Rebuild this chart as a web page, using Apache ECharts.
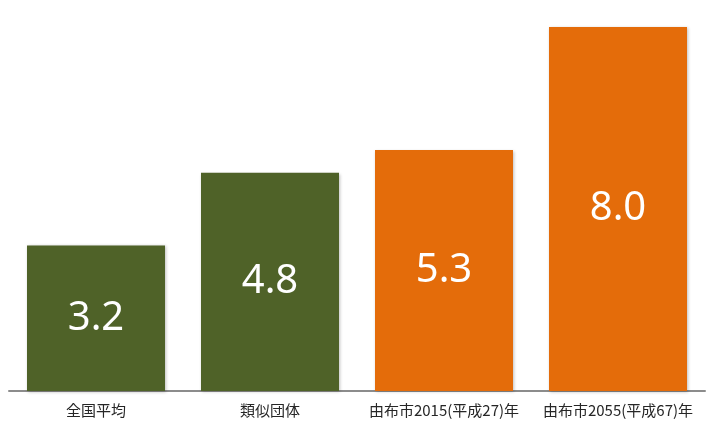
<!DOCTYPE html>
<html>
<head>
<meta charset="utf-8">
<style>
  html, body { margin: 0; padding: 0; background: #ffffff; }
  #chart { width: 708px; height: 422px; }
</style>
<script src="https://cdn.jsdelivr.net/npm/echarts@6/dist/echarts.min.js"></script>
</head>
<body>
<div id="chart"></div>
<script>
// Categories and their values
const categories = ['全国平均', '類似団体', '由布市2015(平成27)年', '由布市2055(平成67)年'];
const values = [3.2, 4.8, 5.3, 8.0];
const barColors = ['#4f6228', '#4f6228', '#e46c0a', '#e46c0a'];

const chart = echarts.init(document.getElementById('chart'), null, { renderer: 'canvas' });

chart.setOption({
  animation: false,
  backgroundColor: '#ffffff',
  grid: { left: 9, right: 3, top: 18, bottom: 31, containLabel: false },
  xAxis: {
    type: 'category',
    data: categories,
    axisLine: { show: true, lineStyle: { color: '#8c8c8c', width: 2 } },
    axisTick: { show: false },
    axisLabel: {
      interval: 0,
      hideOverlap: false,
      color: '#262626',
      fontSize: 15,
      margin: 12,
      fontFamily: '"Noto Sans CJK JP", "Noto Sans", sans-serif'
    }
  },
  yAxis: {
    type: 'value',
    min: 0,
    max: 8.2,
    show: false,
    splitLine: { show: false }
  },
  series: [{
    type: 'bar',
    barWidth: 138,
    data: values.map((v, i) => ({
      value: v,
      itemStyle: {
        color: barColors[i],
        shadowColor: 'rgba(0,0,0,0.25)',
        shadowBlur: 3,
        shadowOffsetX: 1,
        shadowOffsetY: 1
      }
    })),
    label: {
      show: true,
      position: 'inside',
      color: '#ffffff',
      fontSize: 40,
      fontFamily: '"Noto Sans", "Open Sans", sans-serif',
      formatter: p => p.value.toFixed(1)
    }
  }]
});
</script>
</body>
</html>
